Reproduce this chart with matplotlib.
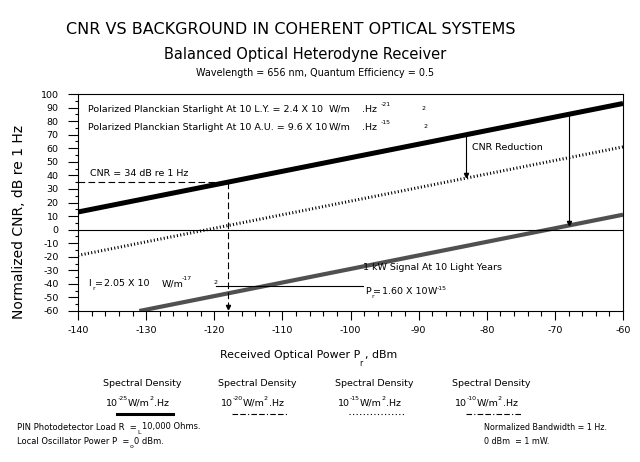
import matplotlib
matplotlib.use("Agg")
import matplotlib.pyplot as plt
from matplotlib.lines import Line2D
import numpy as np

W, H = 640, 462

# chart data
power_dbm = [-140, -60]
cnr_10ly = [13, 93]          # thick black: starlight at 10 L.Y.
cnr_10au = [-19, 61]         # dotted: starlight at 10 A.U.
signal_dbm = [-131, -60]
signal_cnr = [-60, 11]       # grey: 1 kW signal at 10 light years

# annotation points
mark_power = -118
mark_cnr = 35
mark_bottom = -57
reduction_power = [-83, -68]
reduction_top = [70, 85]
reduction_bottom = [40, 5]
ir_line_x = [-119.7, -98.2]
ir_line_y = -41.5

legend_exps = ["-25", "-20", "-15", "-10"]
legend_left = [103, 218, 335, 452]

plt.rcParams['font.family'] = ['DejaVu Sans']
plt.rcParams['axes.unicode_minus'] = False

fig = plt.figure(figsize=(W / 100, H / 100), dpi=100)
ax = fig.add_axes([78 / W, 1 - 311 / H, 545 / W, 217 / H])


def ftext(px, py, s, size, **kw):
    kw.setdefault('va', 'center')
    kw.setdefault('ha', 'left')
    fig.text(px / W, 1 - py / H, s, fontsize=size, **kw)


ax.plot(power_dbm, cnr_10ly, color='black', lw=3.6, solid_capstyle='butt')
ax.plot(power_dbm, cnr_10au, color='black', lw=2.2, linestyle=(0, (0.35, 0.75)))
ax.plot(signal_dbm, signal_cnr, color='#505050', lw=3.0, solid_capstyle='butt')
ax.axhline(0, color='black', lw=0.8)

# CNR reference guide
ax.plot([power_dbm[0], mark_power], [mark_cnr, mark_cnr], color='black', lw=0.8,
        linestyle=(0, (6, 3)))
ax.plot([mark_power, mark_power], [mark_cnr, mark_bottom], color='black', lw=0.8,
        linestyle=(0, (6, 3)))
ax.plot([mark_power], [mark_bottom], marker='v', ms=3, color='black')

# CNR reduction arrows
for x, y0, y1 in zip(reduction_power, reduction_top, reduction_bottom):
    ax.plot([x, x], [y0, y1], color='black', lw=0.8)
    ax.plot([x], [y1], marker='v', ms=3, color='black')

ax.plot(ir_line_x, [ir_line_y, ir_line_y], color='black', lw=0.8)

ax.set_xlim(-140, -60)
ax.set_ylim(-60, 100)
ax.set_xticks(np.arange(-140, -59, 10))
ax.set_xticks(np.arange(-140, -59, 2), minor=True)
ax.set_yticks(np.arange(-60, 101, 10))
ax.set_yticks(np.arange(-60, 101, 5), minor=True)
ax.tick_params(axis='both', which='both', direction='out', width=0.8,
               labelsize=6.8)
ax.tick_params(axis='x', which='major', length=6.5, pad=4)
ax.tick_params(axis='x', which='minor', length=3.6)
ax.tick_params(axis='y', which='major', length=7, pad=7)
ax.tick_params(axis='y', which='minor', length=2)
for sp in ax.spines.values():
    sp.set_linewidth(0.8)

# titles
ftext(66, 29, "CNR VS BACKGROUND IN COHERENT OPTICAL SYSTEMS", 11.5)
ftext(164, 54, "Balanced Optical Heterodyne Receiver", 10.5)
ftext(196, 73, "Wavelength = 656 nm, Quantum Efficiency = 0.5", 6.9)

# axis labels
ftext(19, 222, "Normalized CNR, dB re 1 Hz", 10, rotation=90, ha='center')
ftext(220, 355, "Received Optical Power P", 7.9)
ftext(359, 364, "r", 5.5)
ftext(365, 355, ", dBm", 7.9)

# in-plot text
small = 6.8
tiny = 4.5
ftext(88, 109, "Polarized Planckian Starlight At 10 L.Y. = 2.4 X 10", small)
ftext(329, 109, "W/m", small)
ftext(362, 109, ".Hz", small)
ftext(381, 105, "-21", tiny)
ftext(422, 108, "2", tiny)
ftext(88, 127, "Polarized Planckian Starlight At 10 A.U. = 9.6 X 10", small)
ftext(329, 127, "W/m", small)
ftext(362, 127, ".Hz", small)
ftext(381, 123, "-15", tiny)
ftext(424, 126, "2", tiny)
ftext(472, 147, "CNR Reduction", small)
ftext(90, 174, "CNR = 34 dB re 1 Hz", small)
ftext(88, 284, "I", small)
ftext(92, 289, "r", tiny)
ftext(95, 284, "=", small)
ftext(104, 284, "2.05 X 10", small)
ftext(162, 284, "W/m", small)
ftext(182, 279, "-17", tiny)
ftext(214, 283, "2", tiny)
ftext(363, 268, "1 kW Signal At 10 Light Years", small)
ftext(365, 292, "P", small)
ftext(371, 297, "r", tiny)
ftext(373, 292, "=", small)
ftext(382, 292, "1.60 X 10", small)
ftext(428, 292, "W", small)
ftext(437, 288, "-15", tiny)

# legend block
leg = 6.8
styles = [dict(color='black', lw=2.2),
          dict(color='black', lw=0.8, linestyle=(0, (5, 2, 5, 2, 1, 2))),
          dict(color='black', lw=0.8, linestyle=(0, (1, 2.2))),
          dict(color='black', lw=0.8, linestyle=(0, (5, 2, 1, 2, 5, 2)))]
for left, exp, st in zip(legend_left, legend_exps, styles):
    ftext(left, 384, "Spectral Density", leg)
    ftext(left + 3, 403, "10", leg)
    ftext(left + 15, 399, exp, tiny)
    ftext(left + 25, 403, "W/m", leg)
    ftext(left + 46, 399, "2", tiny)
    ftext(left + 51, 403, ".Hz", leg)
    x0 = (left + 14) / W
    x1 = (left + 70) / W
    yy = 1 - 414 / H
    fig.add_artist(Line2D([x0, x1], [yy, yy], **st))

bot = 6.0
ftext(17, 427, "PIN Photodetector Load R  =", bot)
ftext(137, 433, "L", tiny)
ftext(142, 427, "10,000 Ohms.", bot)
ftext(17, 441, "Local Oscillator Power P  =", bot)
ftext(130, 447, "o", tiny)
ftext(134, 441, "0 dBm.", bot)
ftext(484, 427, "Normalized Bandwidth = 1 Hz.", 5.8)
ftext(484, 441, "0 dBm  = 1 mW.", 5.8)

fig.savefig("out.png", dpi=100)
